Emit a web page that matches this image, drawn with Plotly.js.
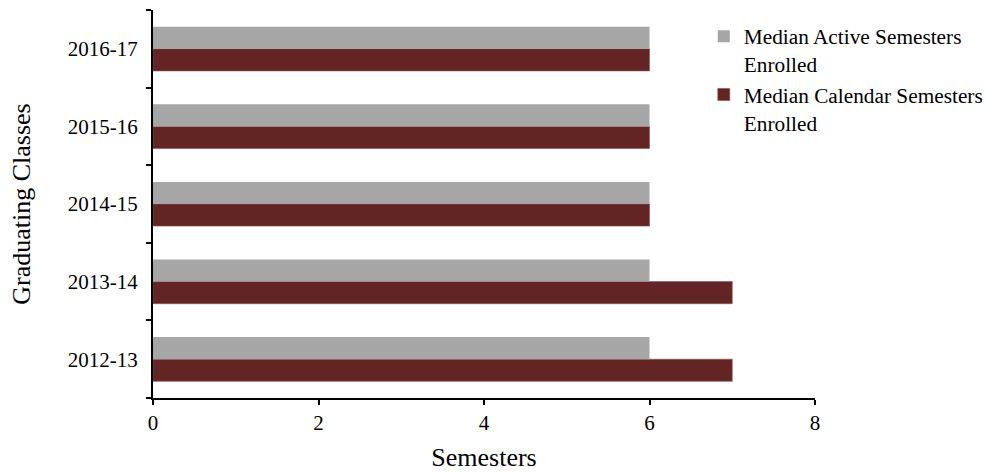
<!DOCTYPE html>
<html>
<head>
<meta charset="utf-8">
<script src="https://cdn.plot.ly/plotly-3.0.1.min.js"></script>
<style>html,body{margin:0;padding:0;background:#fff;}#chart{width:987px;height:473px;}</style>
</head>
<body>
<div id="chart"></div>
<script>
const classes = ["2012-13", "2013-14", "2014-15", "2015-16", "2016-17"];
const activeSemesters = [6, 6, 6, 6, 6];
const calendarSemesters = [7, 7, 6, 6, 6];
const activeName = "Median Active Semesters<br>Enrolled";
const calendarName = "Median Calendar Semesters<br>Enrolled";
const xTicks = [0, 2, 4, 6, 8];

const font = "Liberation Serif, Times New Roman, serif";

const traces = [
  {
    type: "bar", orientation: "h", y: classes, x: calendarSemesters,
    name: calendarName, legendrank: 2,
    marker: {color: "#632523", line: {color: "#8a5050", width: 0.6}}
  },
  {
    type: "bar", orientation: "h", y: classes, x: activeSemesters,
    name: activeName, legendrank: 1,
    marker: {color: "#a6a6a6", line: {width: 0}}
  }
];

const layout = {
  width: 987, height: 473,
  margin: {l: 153, r: 172, t: 10, b: 75, autoexpand: false},
  paper_bgcolor: "#fff", plot_bgcolor: "#fff",
  barmode: "group", bargap: 0.43, bargroupgap: 0,
  font: {family: font, size: 21, color: "#000"},
  showlegend: true,
  legend: {
    x: 0.832, xanchor: "left", y: 0.985, yanchor: "top",
    font: {family: font, size: 21.3, color: "#000"},
    bgcolor: "rgba(0,0,0,0)", tracegroupgap: 0, valign: "top"
  },
  xaxis: {
    range: [0, 8], tickvals: xTicks, ticktext: xTicks.map(String),
    showgrid: false, zeroline: false,
    showline: true, linecolor: "#000", linewidth: 2,
    ticks: "outside", ticklen: 5, tickwidth: 2, tickcolor: "#000",
    tickfont: {family: font, size: 21, color: "#000"},
    title: {text: "Semesters", font: {family: font, size: 26, color: "#000"}, standoff: 14}
  },
  yaxis: {
    type: "category", categoryorder: "array", categoryarray: classes,
    showgrid: false, zeroline: false,
    showline: true, linecolor: "#000", linewidth: 2,
    ticks: "outside", tickson: "boundaries", ticklen: 5, tickwidth: 2, tickcolor: "#000",
    ticklabelstandoff: 9,
    tickfont: {family: font, size: 21, color: "#000"},
    title: {text: "Graduating Classes", font: {family: font, size: 26, color: "#000"}, standoff: 30}
  }
};

Plotly.newPlot("chart", traces, layout, {displayModeBar: false, staticPlot: true});
</script>
</body>
</html>
